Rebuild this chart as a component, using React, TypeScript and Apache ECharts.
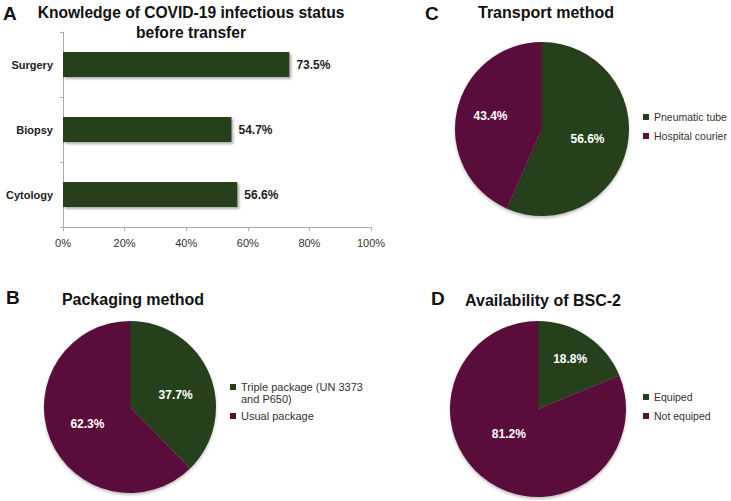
import React, { useEffect, useRef } from "react";
import * as echarts from "echarts";

const GREEN = "#263f1f";
const MAROON = "#5a0c3b";

// Panel A
const barCategories = ["Surgery", "Biopsy", "Cytology"];
const barValues = [73.5, 54.7, 56.6];
const xTicks = [0, 20, 40, 60, 80, 100];

// Panel B
const packagingNames = ["Triple package (UN 3373 and P650)", "Usual package"];
const packagingValues = [37.7, 62.3];

// Panel C
const transportNames = ["Pneumatic tube", "Hospital courier"];
const transportValues = [56.6, 43.4];

// Panel D
const bscNames = ["Equiped", "Not equiped"];
const bscValues = [18.8, 81.2];

const FONT = "'Liberation Sans', Arial, sans-serif";

export default function App() {
  const ref = useRef<HTMLDivElement>(null);
  useEffect(() => {
    document.body.style.margin = "0";
    if (!ref.current) return;
    const chart = echarts.init(ref.current, null, { renderer: "svg" });

    const titleStyle = { fontSize: 16, fontWeight: "bold", color: "#111", fontFamily: FONT, lineHeight: 18 };
    const pieLabel = {
      show: true,
      position: "inside",
      color: "#fff",
      fontWeight: "bold",
      fontSize: 12,
      fontFamily: FONT,
      formatter: (p: any) => p.value.toFixed(1) + "%",
    };
    const pieBase = {
      type: "pie",
      startAngle: 90,
      clockwise: true,
      labelLine: { show: false },
      emphasis: { disabled: true },
      silent: true,
      itemStyle: { borderWidth: 0, shadowBlur: 3, shadowColor: "rgba(0,0,0,0.25)", shadowOffsetY: 2 },
    };
    const legendBase = {
      orient: "vertical",
      icon: "rect",
      itemWidth: 6,
      itemHeight: 6,
      selectedMode: false,
      padding: 0,
      textStyle: { fontSize: 10.5, color: "#333", fontFamily: FONT, lineHeight: 12 },
    };

    const option: any = {
      animation: false,
      textStyle: { fontFamily: FONT },
      title: [
        {
          text: "Knowledge of COVID-19 infectious status\nbefore transfer",
          left: 191,
          top: 2,
          textAlign: "center",
          padding: 0,
          textStyle: { ...titleStyle, fontSize: 15.6, lineHeight: 20 },
        },
        { text: "Packaging method", left: 133, top: 290, textAlign: "center", padding: 0, textStyle: titleStyle },
        { text: "Transport method", left: 546, top: 3, textAlign: "center", padding: 0, textStyle: titleStyle },
        { text: "Availability of BSC-2", left: 543, top: 291, textAlign: "center", padding: 0, textStyle: titleStyle },
      ],
      graphic: [
        { type: "text", x: 3, y: 13, style: { text: "A", font: `bold 19px ${FONT}`, fill: "#111", verticalAlign: "middle" } },
        { type: "text", x: 6, y: 297, style: { text: "B", font: `bold 19px ${FONT}`, fill: "#111", verticalAlign: "middle" } },
        { type: "text", x: 425, y: 13, style: { text: "C", font: `bold 19px ${FONT}`, fill: "#111", verticalAlign: "middle" } },
        { type: "text", x: 431, y: 298, style: { text: "D", font: `bold 19px ${FONT}`, fill: "#111", verticalAlign: "middle" } },
      ],
      grid: [{ left: 63, width: 308, top: 32, height: 195, containLabel: false }],
      xAxis: [
        {
          type: "value",
          gridIndex: 0,
          min: xTicks[0],
          max: xTicks[xTicks.length - 1],
          interval: 20,
          splitLine: { show: false },
          axisLine: { show: true, lineStyle: { color: "#aaa" } },
          axisTick: { show: true, length: 4, lineStyle: { color: "#aaa" } },
          axisLabel: { formatter: "{value}%", fontSize: 11, color: "#333", margin: 10, fontFamily: FONT },
        },
      ],
      yAxis: [
        {
          type: "category",
          gridIndex: 0,
          inverse: true,
          data: barCategories,
          axisLine: { show: true, lineStyle: { color: "#aaa" } },
          axisTick: { show: true, length: 3, lineStyle: { color: "#aaa" } },
          axisLabel: { fontSize: 11, fontWeight: "bold", color: "#222", margin: 10, fontFamily: FONT },
        },
      ],
      legend: [
        {
          ...legendBase,
          left: 230,
          top: 369,
          itemGap: 5,
          textStyle: { ...legendBase.textStyle, fontSize: 11 },
          data: packagingNames,
          formatter: (name: string) => (name === packagingNames[0] ? "\nTriple package (UN 3373\nand P650)" : name),
        },
        { ...legendBase, left: 643, top: 111, itemGap: 7, data: transportNames },
        { ...legendBase, left: 643, top: 391, itemGap: 7, data: bscNames },
      ],
      series: [
        {
          type: "bar",
          xAxisIndex: 0,
          yAxisIndex: 0,
          data: barValues,
          barWidth: 25,
          silent: true,
          itemStyle: {
            color: GREEN,
            shadowBlur: 2,
            shadowOffsetX: 2,
            shadowOffsetY: 2,
            shadowColor: "rgba(0,0,0,0.3)",
          },
          label: {
            show: true,
            position: "right",
            distance: 7,
            fontSize: 12,
            fontWeight: "bold",
            color: "#222",
            fontFamily: FONT,
            formatter: (p: any) => p.value.toFixed(1) + "%",
          },
        },
        {
          ...pieBase,
          name: "Packaging method",
          center: [130, 407],
          radius: 86,
          label: pieLabel,
          data: [
            { name: packagingNames[0], value: packagingValues[0], itemStyle: { color: GREEN }, label: { offset: [3, 5] } },
            { name: packagingNames[1], value: packagingValues[1], itemStyle: { color: MAROON } },
          ],
        },
        {
          ...pieBase,
          name: "Transport method",
          center: [542, 129],
          radius: 87,
          label: pieLabel,
          data: [
            { name: transportNames[0], value: transportValues[0], itemStyle: { color: GREEN } },
            { name: transportNames[1], value: transportValues[1], itemStyle: { color: MAROON }, label: { offset: [-6, -3] } },
          ],
        },
        {
          ...pieBase,
          name: "Availability of BSC-2",
          center: [538, 409],
          radius: 88,
          label: pieLabel,
          data: [
            { name: bscNames[0], value: bscValues[0], itemStyle: { color: GREEN }, label: { offset: [6, -11] } },
            { name: bscNames[1], value: bscValues[1], itemStyle: { color: MAROON }, label: { offset: [-3, -14] } },
          ],
        },
      ],
    };
    chart.setOption(option);
    return () => chart.dispose();
  }, []);
  return <div ref={ref} style={{ width: 731, height: 501, background: "#fff" }} />;
}
